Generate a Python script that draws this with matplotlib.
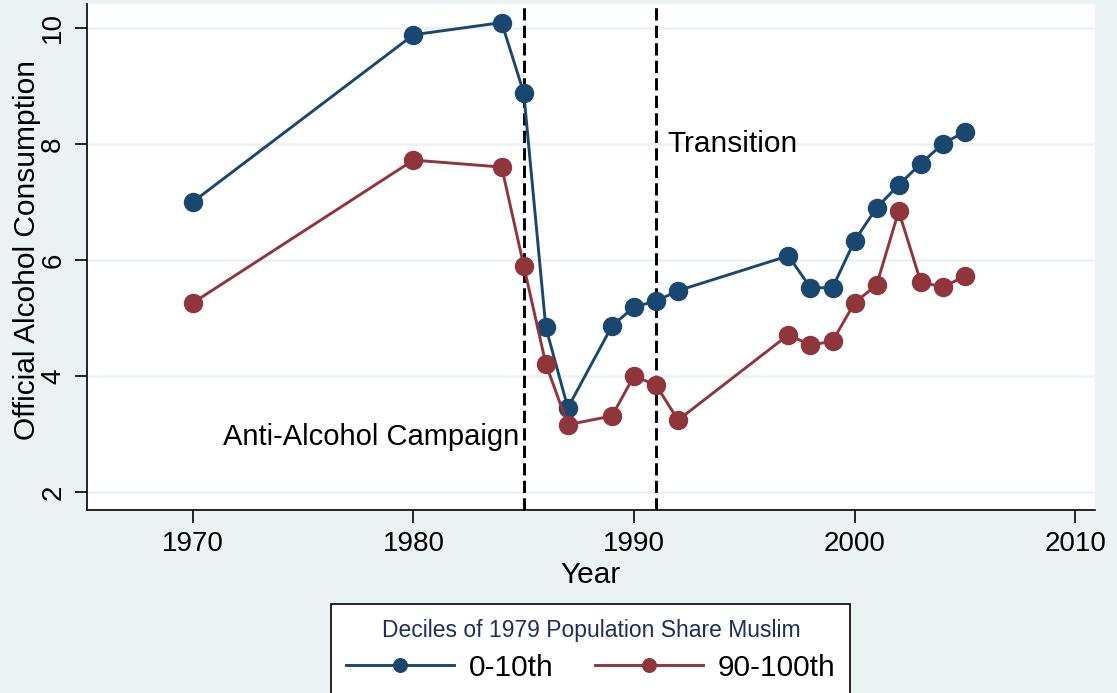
import numpy as np
import matplotlib.pyplot as plt

plt.rcParams['font.family'] = ['Liberation Sans', 'DejaVu Sans']

# Data
years = [1970, 1980, 1984, 1985, 1986, 1987, 1989, 1990, 1991, 1992,
         1997, 1998, 1999, 2000, 2001, 2002, 2003, 2004, 2005]
low_muslim = [7.0, 9.88, 10.09, 8.88, 4.84, 3.45, 4.86, 5.19, 5.29, 5.47,
              6.07, 5.52, 5.52, 6.33, 6.90, 7.29, 7.66, 8.0, 8.21]
high_muslim = [5.26, 7.72, 7.60, 5.90, 4.21, 3.16, 3.31, 4.0, 3.84, 3.24,
               4.71, 4.53, 4.60, 5.26, 5.57, 6.84, 5.62, 5.53, 5.72]
event_years = [1985, 1991]

bg = '#eaf2f3'
blue = '#1a476f'
red = '#90353b'

fig = plt.figure(figsize=(11.17, 6.93), dpi=100, facecolor=bg)
ax = fig.add_axes([0.0779, 0.2641, 0.9024, 0.7301])
ax.set_facecolor('white')

ax.plot(years, low_muslim, '-o', color=blue, lw=2.1, ms=13, label='0-10th', zorder=3)
ax.plot(years, high_muslim, '-o', color=red, lw=2.1, ms=13, label='90-100th', zorder=3)

for yr in event_years:
    ax.axvline(yr, color='black', lw=2.1, linestyle=(0, (4.2, 1.8)), zorder=2)

ax.text(1991.5, 8.0, 'Transition', fontsize=21.5, va='center', ha='left')
ax.text(1984.8, 2.95, 'Anti-Alcohol Campaign', fontsize=21, va='center', ha='right')

ax.set_xlim(1965.2, 2010.9)
ax.set_ylim(1.69, 10.41)
ax.set_xticks([1970, 1980, 1990, 2000, 2010])
ax.set_yticks([2, 4, 6, 8, 10])
ax.tick_params(axis='both', direction='out', length=9, width=1.2, labelsize=20, pad=6)
for lbl in ax.get_yticklabels():
    lbl.set_rotation(90)
    lbl.set_va('center')
ax.yaxis.grid(True, color=bg, lw=1.8)
ax.set_axisbelow(True)

for side in ['top', 'right']:
    ax.spines[side].set_visible(False)
for side in ['left', 'bottom']:
    ax.spines[side].set_linewidth(1.2)

ax.set_xlabel('Year', fontsize=21.5, labelpad=3)
ax.set_ylabel('Official Alcohol Consumption', fontsize=21.5)
ax.yaxis.set_label_coords(-0.0595, 0.514)
ax.yaxis.label.set_va('center')

leg = fig.legend(loc='upper center', bbox_to_anchor=(0.529, 1 - 604 / 693), ncol=2,
                 title='Deciles of 1979 Population Share Muslim', title_fontsize=16.5,
                 fontsize=21.5, frameon=True, fancybox=False, edgecolor='black',
                 framealpha=1, markerscale=0.75, handlelength=3.6, handletextpad=0.5,
                 columnspacing=1.4, borderpad=0.5, labelspacing=0.4, borderaxespad=0)
leg.get_title().set_color('#1c2e5c')
leg.get_frame().set_linewidth(1.2)

fig.savefig('out.png', dpi=100, facecolor=bg)
